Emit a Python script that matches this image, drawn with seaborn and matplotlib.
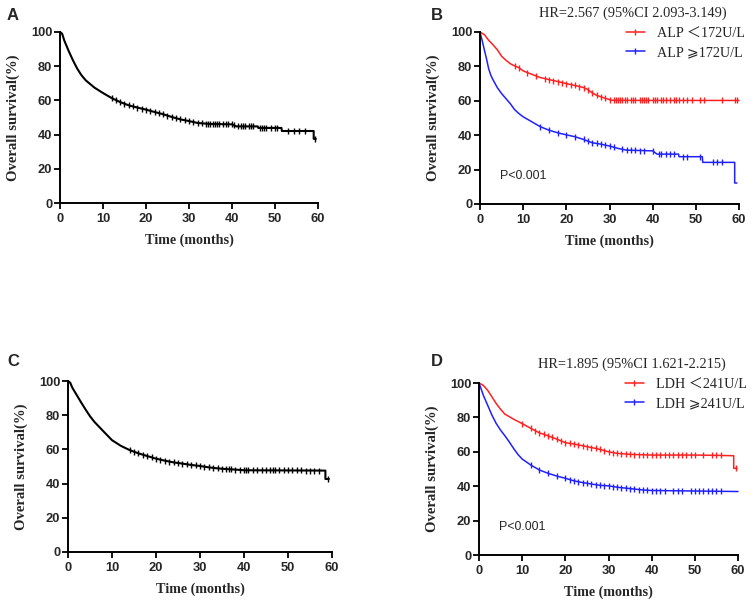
import numpy as np
import matplotlib
matplotlib.use("Agg")
import matplotlib.pyplot as plt
import seaborn as sns
from matplotlib.lines import Line2D

sns.set_theme(style="white")
plt.rcParams['font.family'] = ['Liberation Sans', 'DejaVu Sans']

# ---------------- data ----------------
# Panel A (all patients, cohort 1)
a_time = [0, 0.5, 1, 2, 3, 4, 5, 6, 8, 10, 12, 14, 16, 18, 20, 22, 24, 26, 28, 30, 32, 35, 40, 41, 46, 46.1, 51.5, 51.6, 59, 59, 59.5]
a_surv = [100, 99, 95, 89, 83.5, 78.6, 74.7, 71.7, 67.5, 64.3, 61.4, 59, 57.1, 55.8, 54.6, 53.2, 51.9, 50.3, 48.9, 47.9, 46.8, 46.2, 46.0, 44.8, 44.8, 43.9, 43.9, 42.1, 42.1, 37.5, 37.5]
a_cens = [12, 13, 14, 15, 16, 17, 18, 19, 20, 21, 22, 23, 24, 25, 26, 27, 28, 29, 30, 31, 32, 33, 34, 34.5, 35,
          35.5, 36, 36.5, 37, 38, 38.5, 39, 40, 40.5, 41.5, 42, 42.5, 43, 44, 44.5, 45, 46.5, 47, 47.5, 48, 49,
          50, 50.5, 53, 54.5, 55.5, 57, 59.4]

# Panel B (ALP)
b_red_time = [0, 1, 2, 3, 4, 5, 6, 7, 8, 9, 10, 12, 14, 16, 18, 20, 22, 24, 25, 26, 27, 28, 29, 30.5, 40, 60]
b_red_surv = [100, 98.5, 95.2, 92.6, 89.7, 85.9, 83.6, 81.6, 80.3, 79.3, 77.4, 75.4, 73.5, 72.3, 71.2, 70.0, 68.9, 67.7, 66.5, 64.6, 63.2, 62.3, 61.5, 60.3, 60.2, 60.2]
b_red_cens = [8, 9, 11, 13, 15, 16, 17, 18, 19, 20, 21, 22, 23, 24, 25, 26, 27, 28, 29, 30, 31, 31.5, 32, 32.5,
              33, 33.5, 34, 35, 35.5, 36, 37, 37.5, 38, 38.5, 39, 40, 40.5, 41, 42, 42.5, 43, 44, 45, 45.5, 46,
              47, 48, 49, 51, 52, 56, 59, 59.5]
b_blue_time = [0, 0.5, 1, 1.5, 2, 2.5, 3, 4, 5, 6, 7, 8, 9, 10, 12, 14, 16, 18, 20, 22, 24, 26, 28, 30, 32, 34, 40, 41, 46, 46.1, 51.5, 51.6, 59, 59, 59.5]
b_blue_surv = [100, 95, 89.7, 84.5, 78.7, 74.9, 72.3, 67.7, 64.2, 61.3, 58.4, 54.9, 52.6, 50.7, 47.8, 44.9, 42.9, 41.4, 40.2, 39.1, 37.5, 35.6, 34.8, 33.7, 32.3, 31.3, 30.9, 29.0, 29.0, 27.5, 27.5, 24.2, 24.2, 12.2, 12.2]
b_blue_cens = [14, 16, 18, 20, 22, 24, 25, 26, 27, 28, 29, 30, 31, 33, 34, 35, 36, 37, 38, 40, 41.5, 42, 43, 44,
               45, 47, 48, 51, 54, 55, 56]

# Panel C (all patients, cohort 2)
c_time = [0, 0.5, 1, 2, 3, 4, 5, 6, 8, 10, 12, 14, 16, 18, 20, 22, 24, 26, 28, 30, 32, 34, 36, 38, 40, 50, 58.5, 58.5, 59.3]
c_surv = [100, 99, 96, 91.7, 87.4, 83.3, 79.4, 76.1, 70.7, 65.4, 62.1, 59.6, 57.7, 56.1, 54.6, 53.4, 52.4, 51.7, 50.9, 50.3, 49.5, 48.9, 48.5, 48.2, 47.8, 47.7, 47.6, 42.7, 42.7]
c_cens = [14, 15, 16, 17, 18, 19, 20, 21, 22, 23, 24, 25, 26, 27, 28, 29, 30, 31, 32, 33, 34, 35, 36, 36.5, 37,
          38, 39, 40, 40.5, 41, 42, 43, 44, 45, 46, 46.5, 47, 48, 49, 50, 51, 52, 53, 54, 55, 56, 57, 59.1]

# Panel D (LDH)
d_red_time = [0, 1, 2, 3, 4, 5, 6, 8, 10, 12, 14, 16, 18, 20, 22, 24, 26, 28, 30, 32, 35, 40, 50, 56, 59, 59, 59.8]
d_red_surv = [100, 98.6, 95.8, 91.9, 88.0, 84.7, 81.9, 79.0, 76.4, 73.6, 71.0, 69.3, 67.4, 65.3, 64.5, 63.5, 62.5, 61.4, 60.0, 59.1, 58.5, 58.1, 58.1, 57.9, 57.7, 50.4, 50.4]
d_red_cens = [10, 12, 13, 14, 15, 16, 17, 18, 19, 20, 21, 22, 23, 24, 25, 26, 27, 28, 29, 30, 31, 32, 33, 34, 35,
              36, 37, 38, 39, 40, 41, 42, 43, 44, 45, 46, 47, 48, 49, 50, 52, 54, 55, 56, 59.6]
d_blue_time = [0, 1, 2, 3, 4, 5, 6, 7, 8, 9, 10, 12, 14, 16, 18, 20, 22, 24, 26, 28, 30, 32, 35, 38, 40, 60]
d_blue_surv = [100, 92.9, 87.1, 81.3, 76.4, 72.6, 69.3, 65.8, 62.0, 58.5, 55.8, 52.3, 49.4, 47.5, 45.9, 44.6, 43.1, 42.1, 41.3, 40.5, 40.2, 39.4, 38.6, 37.8, 37.5, 36.9]
d_blue_cens = [12, 14, 16, 18, 20, 21, 22, 23, 24, 25, 26, 27, 28, 29, 30, 31, 32, 33, 34, 35, 36, 37, 38, 39, 40,
               41, 42, 43, 45, 46, 47, 49, 50, 51, 52, 53, 54, 55, 56]

x_ticks = [0, 10, 20, 30, 40, 50, 60]
y_ticks = [0, 20, 40, 60, 80, 100]

hr_b = "HR=2.567 (95%CI 2.093-3.149)"
hr_d = "HR=1.895 (95%CI 1.621-2.215)"
leg_b = ["ALP \uff1c172U/L", "ALP \u2a7e172U/L"]
leg_d = ["LDH \uff1c241U/L", "LDH \u2a7e241U/L"]
p_text = "P<0.001"

RED = "#ff2020"
BLUE = "#2020ff"

W, H = 753, 604
fig = plt.figure(figsize=(W / 100, H / 100), dpi=100)


def px_axes(left, top, right, bottom):
    return fig.add_axes([left / W, 1 - bottom / H, (right - left) / W, (bottom - top) / H])


axA = px_axes(60, 32, 318, 203)
axB = px_axes(480, 32, 739, 204)
axC = px_axes(68, 381, 332, 552)
axD = px_axes(479, 383, 738, 555)

serif = ['Liberation Serif', 'DejaVu Serif']
serif_sym = ['Liberation Serif', 'Noto Sans CJK SC', 'DejaVu Sans']


def draw_curve(ax, t, s, cens, color, lw):
    sns.lineplot(x=t, y=s, ax=ax, color=color, lw=lw, estimator=None, sort=False, clip_on=False)
    ct = np.array(cens)
    cs = np.interp(ct, t, s)
    ax.plot(ct, cs, ls='none', marker='|', ms=4.5, mew=1.0, color=color, clip_on=False)


def style(ax, xlabel):
    ax.set_xlim(0, 60)
    ax.set_ylim(0, 100)
    ax.set_xticks(x_ticks)
    ax.set_yticks(y_ticks)
    for sp in ['top', 'right']:
        ax.spines[sp].set_visible(False)
    for sp in ['left', 'bottom']:
        ax.spines[sp].set_linewidth(1.4)
        ax.spines[sp].set_color('black')
    ax.tick_params(axis='both', direction='out', length=4, width=1.3, color='black',
                   labelsize=9.3, pad=1.5, left=True, bottom=True)
    ax.tick_params(axis='x', pad=3)
    for lab in ax.get_xticklabels() + ax.get_yticklabels():
        lab.set_fontweight('bold')
    ax.set_ylabel("Overall survival(%)", fontsize=10.6, fontweight='bold', family=serif, labelpad=8)
    if xlabel:
        ax.set_xlabel("Time (months)", fontsize=10.2, fontweight='bold', family=serif, labelpad=6)
    else:
        ax.set_xlabel("")
    ax.set_facecolor('white')


draw_curve(axA, a_time, a_surv, a_cens, 'black', 1.5)
draw_curve(axB, b_red_time, b_red_surv, b_red_cens, RED, 1.1)
draw_curve(axB, b_blue_time, b_blue_surv, b_blue_cens, BLUE, 1.1)
draw_curve(axC, c_time, c_surv, c_cens, 'black', 1.5)
draw_curve(axD, d_red_time, d_red_surv, d_red_cens, RED, 1.1)
draw_curve(axD, d_blue_time, d_blue_surv, d_blue_cens, BLUE, 1.1)

style(axA, True)
style(axB, True)
style(axC, True)
style(axD, True)

for ax, hr, labs in [(axB, hr_b, leg_b), (axD, hr_d, leg_d)]:
    ax.text(0.59, 1.11, hr, transform=ax.transAxes, ha='center', va='center',
            fontsize=10.4, family=serif)
    handles = [Line2D([0], [0], color=RED, lw=1.1, marker='|', ms=4.5, mew=1.0),
               Line2D([0], [0], color=BLUE, lw=1.1, marker='|', ms=4.5, mew=1.0)]
    leg = ax.legend(handles, labs, loc='upper left', bbox_to_anchor=(0.54, 1.065), frameon=False,
                    prop={'family': serif_sym, 'size': 10.2}, handlelength=1.4, handletextpad=0.8,
                    labelspacing=0.45, borderaxespad=0)
    ax.text(4.6, 16.5, p_text, fontsize=8.9, ha='left', va='center')

for lbl, x, y in [("A", 7, 16), ("B", 431, 16), ("C", 7, 362), ("D", 431, 362)]:
    fig.text(x / W, 1 - y / H, lbl, fontsize=12, fontweight='bold', ha='left', va='center')

fig.savefig("out.png", dpi=100, facecolor='white')
